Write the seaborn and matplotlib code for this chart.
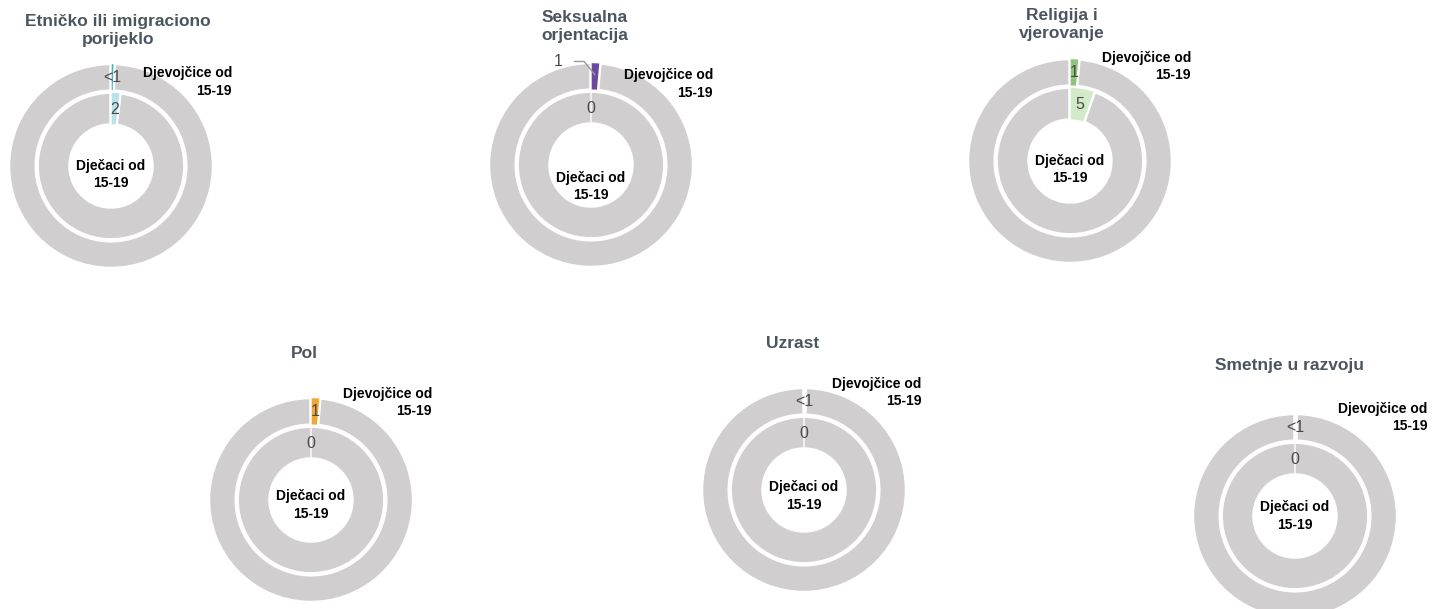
import numpy as np
import matplotlib.pyplot as plt
import seaborn as sns

# podaci (postotak)
naslovi = ['Etničko ili imigraciono\nporijeklo', 'Seksualna\norjentacija', 'Religija i\nvjerovanje',
           'Pol', 'Uzrast', 'Smetnje u razvoju']
djevojcice = [0.5, 1.4, 1.4, 1.4, 0.2, 0.2]
djevojcice_oznake = ['<1', '1', '1', '1', '<1', '<1']
djecaci = [2, 0, 5.4, 0, 0, 0]
djecaci_oznake = ['2', '0', '5', '0', '0', '0']

boje_dj = ['#3db5c6', '#6a4a9e', '#8dc47b', '#f2a734', '#f4f4f4', '#f4f4f4']
boje_de = ['#b7e3ea', '#c9b8df', '#d3eac9', '#f9d8a6', '#f4f4f4', '#f4f4f4']
SIVA = '#d0cece'

# raspored (pikseli, centar svake krofne)
centri = [(111, 166), (591, 165), (1070, 161), (311, 500), (804, 490), (1295, 516)]
poz_naslova = [(0.07, 1.32), (-0.06, 1.35), (-0.08, 1.33), (-0.06, 1.43), (-0.11, 1.43), (-0.05, 1.47)]
poz_dj = [(1.18, 0.82), (1.19, 0.79), (1.18, 0.92), (1.18, 0.95), (1.15, 0.95), (1.29, 0.96)]
dy_de = [-0.08, -0.21, -0.08, -0.05, -0.06, 0.0]
vani = [False, True, False, False, False, False]

sns.set_theme(style='white')
plt.rcParams['font.family'] = ['Liberation Sans', 'DejaVu Sans']

W, H = 1442, 609
R = 102.5
L = 1.06

fig = plt.figure(figsize=(W / 100, H / 100), dpi=100)

for i in range(6):
    cx, cy = centri[i]
    ax = fig.add_axes([(cx - L * R) / W, 1 - (cy + L * R) / H, 2 * L * R / W, 2 * L * R / H])

    wo, _ = ax.pie([djevojcice[i], 100 - djevojcice[i]], radius=1.0, colors=[boje_dj[i], SIVA],
                   startangle=90, counterclock=False,
                   wedgeprops=dict(width=0.27, edgecolor='white', linewidth=2.5))
    wi, _ = ax.pie([djecaci[i], 100 - djecaci[i]], radius=0.72, colors=[boje_de[i], SIVA],
                   startangle=90, counterclock=False,
                   wedgeprops=dict(width=0.32, edgecolor='white', linewidth=2.5))
    for w in (wo[0], wi[0]):
        w.set_zorder(3)
        w.set_linewidth(1)

    ax.set_xlim(-L, L)
    ax.set_ylim(-L, L)
    ax.set_aspect('equal')
    ax.axis('off')

    # oznake vrijednosti
    a_dj = np.deg2rad(90 - 3.6 * djevojcice[i] / 2)
    a_de = np.deg2rad(90 - 3.6 * djecaci[i] / 2)
    if vani[i]:
        ax.annotate(djevojcice_oznake[i], xy=(0.88 * np.cos(a_dj), 0.88 * np.sin(a_dj)),
                    xytext=(-0.32, 1.01), ha='center', va='center', fontsize=11.5, color='#4a4a4a',
                    arrowprops=dict(arrowstyle='-', color='#9a9a9a', lw=1,
                                    shrinkA=6, shrinkB=0,
                                    connectionstyle='angle,angleA=0,angleB=129,rad=0'))
    else:
        ax.text(0.865 * np.cos(a_dj), 0.865 * np.sin(a_dj), djevojcice_oznake[i],
                ha='center', va='center', fontsize=11.5, color='#4a4a4a', zorder=5)
    ax.text(0.555 * np.cos(a_de), 0.555 * np.sin(a_de), djecaci_oznake[i],
            ha='center', va='center', fontsize=11.5, color='#4a4a4a', zorder=5)

    # naslovi i nazivi serija
    ax.text(poz_naslova[i][0], poz_naslova[i][1], naslovi[i], ha='center', va='center',
            fontsize=12.5, fontweight='bold', color='#4b555f', linespacing=1.25)
    ax.text(poz_dj[i][0], poz_dj[i][1], 'Djevojčice od\n15-19', ha='right', va='center',
            fontsize=10, fontweight='bold', color='black', linespacing=1.3)
    ax.text(0, dy_de[i], 'Dječaci od\n15-19', ha='center', va='center',
            fontsize=10, fontweight='bold', color='black', linespacing=1.3)

fig.savefig('out.png', dpi=100)
